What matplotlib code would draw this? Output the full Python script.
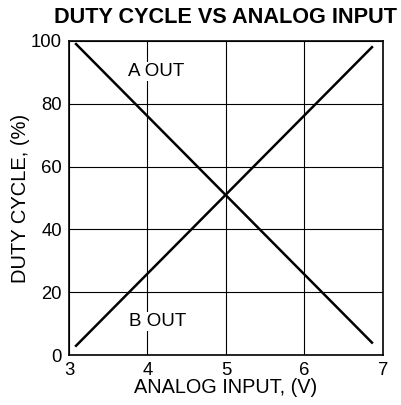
import matplotlib
matplotlib.use("Agg")
import matplotlib.pyplot as plt

plt.rcParams['font.family'] = ['Liberation Sans', 'DejaVu Sans']

# valores
vin = [3.09, 6.86]
a_out = [99, 4]
b_out = [3, 98]

xticks = [3, 4, 5, 6, 7]
yticks = [0, 20, 40, 60, 80, 100]

fig = plt.figure(figsize=(4.01, 4.05), dpi=100)
ax = fig.add_axes([0.172, 0.123, 0.783, 0.776])

ax.plot(vin, a_out, color='black', lw=1.8)
ax.plot(vin, b_out, color='black', lw=1.8)

ax.set_xlim(3, 7)
ax.set_ylim(0, 100)
ax.set_xticks(xticks)
ax.set_yticks(yticks)
ax.grid(True, color='black', lw=0.8)
for s in ax.spines.values():
    s.set_linewidth(1.2)
ax.tick_params(length=0, labelsize=13.3)
ax.tick_params(axis='y', pad=5)
ax.tick_params(axis='x', pad=5)

ax.text(4.11, 90.3, 'A OUT', fontsize=13.5, ha='center', va='center',
        bbox=dict(facecolor='white', edgecolor='none', pad=1))
ax.text(4.13, 10.7, 'B OUT', fontsize=13.5, ha='center', va='center',
        bbox=dict(facecolor='white', edgecolor='none', pad=1))

ax.set_xlabel('ANALOG INPUT, (V)', fontsize=14.3, labelpad=-1)
ax.set_ylabel('DUTY CYCLE, (%)', fontsize=14.5, labelpad=1)
ax.set_title('DUTY CYCLE VS ANALOG INPUT', fontsize=15.6, fontweight='bold', pad=13)

fig.savefig('out.png', dpi=100)
